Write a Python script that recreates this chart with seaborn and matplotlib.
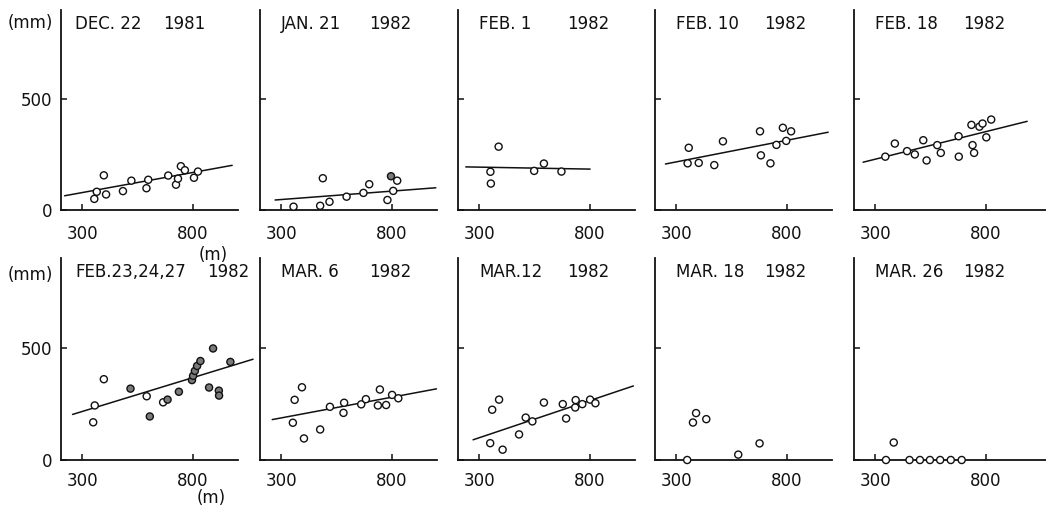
import matplotlib
matplotlib.use("Agg")
import matplotlib.pyplot as plt
import pandas as pd
import seaborn as sns

# ---------------- data (distance m, depth mm) ----------------
dec22_x = [355, 366, 398, 408, 484, 522, 590, 598, 688, 723, 732, 745, 763, 804, 822]
dec22_y = [50, 82, 156, 70, 85, 132, 98, 136, 155, 114, 141, 197, 179, 145, 173]
dec22_f = [0] * 15
dec22_fit_x = [221, 976]
dec22_fit_y = [64, 201]

jan21_x = [356, 476, 488, 518, 595, 671, 697, 779, 795, 805, 823]
jan21_y = [15, 19, 143, 37, 60, 77, 116, 45, 152, 86, 132]
jan21_f = [0, 0, 0, 0, 0, 0, 0, 0, 1, 0, 0]
jan21_fit_x = [273, 997]
jan21_fit_y = [45, 100]

feb1_x = [351, 353, 388, 548, 592, 671]
feb1_y = [172, 119, 285, 176, 209, 173]
feb1_f = [0] * 6
feb1_fit_x = [240, 800]
feb1_fit_y = [194, 184]

feb10_x = [352, 357, 402, 472, 511, 678, 682, 725, 752, 781, 796, 818]
feb10_y = [210, 280, 212, 202, 309, 354, 246, 210, 293, 370, 311, 354]
feb10_f = [0] * 12
feb10_fit_x = [252, 985]
feb10_fit_y = [207, 350]

feb18_x = [346, 389, 444, 479, 517, 532, 580, 596, 676, 677, 734, 739, 746, 770, 784, 801, 823]
feb18_y = [240, 299, 265, 250, 314, 223, 292, 257, 332, 240, 383, 292, 257, 375, 389, 327, 407]
feb18_f = [0] * 17
feb18_fit_x = [246, 985]
feb18_fit_y = [215, 399]

feb23_x = [350, 357, 398, 591, 665, 518, 605, 685, 736, 795, 800, 808, 818, 833, 872, 890, 916, 917, 968]
feb23_y = [168, 243, 360, 284, 257, 318, 194, 269, 304, 356, 375, 397, 419, 441, 323, 497, 309, 287, 437]
feb23_f = [0, 0, 0, 0, 0, 1, 1, 1, 1, 1, 1, 1, 1, 1, 1, 1, 1, 1, 1]
feb23_fit_x = [257, 1070]
feb23_fit_y = [203, 449]

mar6_x = [353, 361, 394, 403, 476, 520, 581, 584, 661, 682, 736, 745, 773, 800, 828]
mar6_y = [166, 268, 324, 96, 136, 237, 210, 255, 248, 271, 243, 314, 245, 290, 275]
mar6_f = [0] * 15
mar6_fit_x = [260, 1000]
mar6_fit_y = [180, 317]

mar12_x = [350, 359, 390, 406, 480, 510, 540, 592, 677, 692, 733, 735, 765, 800, 824]
mar12_y = [75, 224, 269, 46, 114, 189, 172, 256, 249, 185, 234, 267, 249, 269, 253]
mar12_f = [0] * 15
mar12_fit_x = [273, 995]
mar12_fit_y = [90, 330]

mar18_x = [350, 376, 390, 436, 580, 676]
mar18_y = [0, 167, 209, 182, 24, 74]
mar18_f = [0] * 6

mar26_x = [349, 384, 455, 502, 547, 593, 641, 690]
mar26_y = [0, 78, 0, 0, 0, 0, 0, 0]
mar26_f = [0] * 8

dates = ["DEC. 22", "JAN. 21", "FEB. 1", "FEB. 10", "FEB. 18",
         "FEB.23,24,27", "MAR. 6", "MAR.12", "MAR. 18", "MAR. 26"]
years = ["1981", "1982", "1982", "1982", "1982",
         "1982", "1982", "1982", "1982", "1982"]
x_ticks = [300, 800]
y_ticks = [0, 500]
y_tick_labels = ["0", "500"]

panels = [
    (dec22_x, dec22_y, dec22_f, dec22_fit_x, dec22_fit_y),
    (jan21_x, jan21_y, jan21_f, jan21_fit_x, jan21_fit_y),
    (feb1_x, feb1_y, feb1_f, feb1_fit_x, feb1_fit_y),
    (feb10_x, feb10_y, feb10_f, feb10_fit_x, feb10_fit_y),
    (feb18_x, feb18_y, feb18_f, feb18_fit_x, feb18_fit_y),
    (feb23_x, feb23_y, feb23_f, feb23_fit_x, feb23_fit_y),
    (mar6_x, mar6_y, mar6_f, mar6_fit_x, mar6_fit_y),
    (mar12_x, mar12_y, mar12_f, mar12_fit_x, mar12_fit_y),
    (mar18_x, mar18_y, mar18_f, None, None),
    (mar26_x, mar26_y, mar26_f, None, None),
]

# ---------------- style ----------------
sns.set_theme(style="ticks")
plt.rcParams["font.family"] = ["DejaVu Sans"]
INK = "#111111"

W, H = 1046, 509
fig = plt.figure(figsize=(W / 100, H / 100), dpi=100)
fig.patch.set_facecolor("white")

col_left = [61, 260, 458, 655, 854]
col_w = [177, 177, 177, 177, 192]
row_top = [10, 258]
row_bot = [210, 460]
px_per_m = 0.222
xmin = 205

for i, (xs, ys, fs, fx, fy) in enumerate(panels):
    r, c = divmod(i, 5)
    l, w = col_left[c], col_w[c]
    t, b = row_top[r], row_bot[r]
    ax = fig.add_axes([l / W, 1 - b / H, w / W, (b - t) / H])
    ax.set_facecolor("white")
    df = pd.DataFrame({"dist": xs, "depth": ys,
                       "kind": ["filled" if f else "open" for f in fs]})
    if fx is not None:
        sns.lineplot(x=fx, y=fy, ax=ax, color=INK, linewidth=1.1,
                     clip_on=False, zorder=2)
    sns.scatterplot(data=df, x="dist", y="depth", hue="kind",
                    palette={"open": "white", "filled": "#7a7a7a"},
                    edgecolor=INK, linewidth=1.0, s=26, ax=ax,
                    legend=False, clip_on=False, zorder=3)
    ax.set_xlim(xmin, xmin + w / px_per_m)
    ax.set_ylim(0, 900)
    ax.set_xticks(x_ticks)
    ax.set_xticklabels([str(v) for v in x_ticks])
    ax.set_yticks(y_ticks)
    if c == 0:
        ax.set_yticklabels(y_tick_labels)
    else:
        ax.set_yticklabels([])
    ax.set_xlabel("")
    ax.set_ylabel("")
    sns.despine(ax=ax)
    for s in ("left", "bottom"):
        ax.spines[s].set_color(INK)
        ax.spines[s].set_linewidth(1.3)
    ax.tick_params(axis="both", direction="in", length=4, width=1.1,
                   color=INK, labelcolor=INK, labelsize=12)
    ax.tick_params(axis="x", pad=10.5 if r == 0 else 8.5)
    ax.tick_params(axis="y", pad=6)
    hpx = b - t
    dx = 14 if c == 0 else 21
    ax.text(dx / w, 1 - 5 / hpx, dates[i], transform=ax.transAxes,
            ha="left", va="top", fontsize=12, color=INK)
    yr_right = (144 if i == 0 else 188 if i == 5 else 151)
    ax.text(yr_right / w, 1 - 5 / hpx, years[i], transform=ax.transAxes,
            ha="right", va="top", fontsize=12, color=INK)

# unit labels
for y in (23, 275):
    fig.text(8 / W, 1 - y / H, "(mm)", ha="left", va="center",
             fontsize=12, color=INK)
fig.text(213 / W, 1 - 255 / H, "(m)", ha="center", va="center",
         fontsize=12, color=INK)
fig.text(211 / W, 1 - 498 / H, "(m)", ha="center", va="center",
         fontsize=12, color=INK)

fig.savefig("out.png", dpi=100, facecolor="white")
